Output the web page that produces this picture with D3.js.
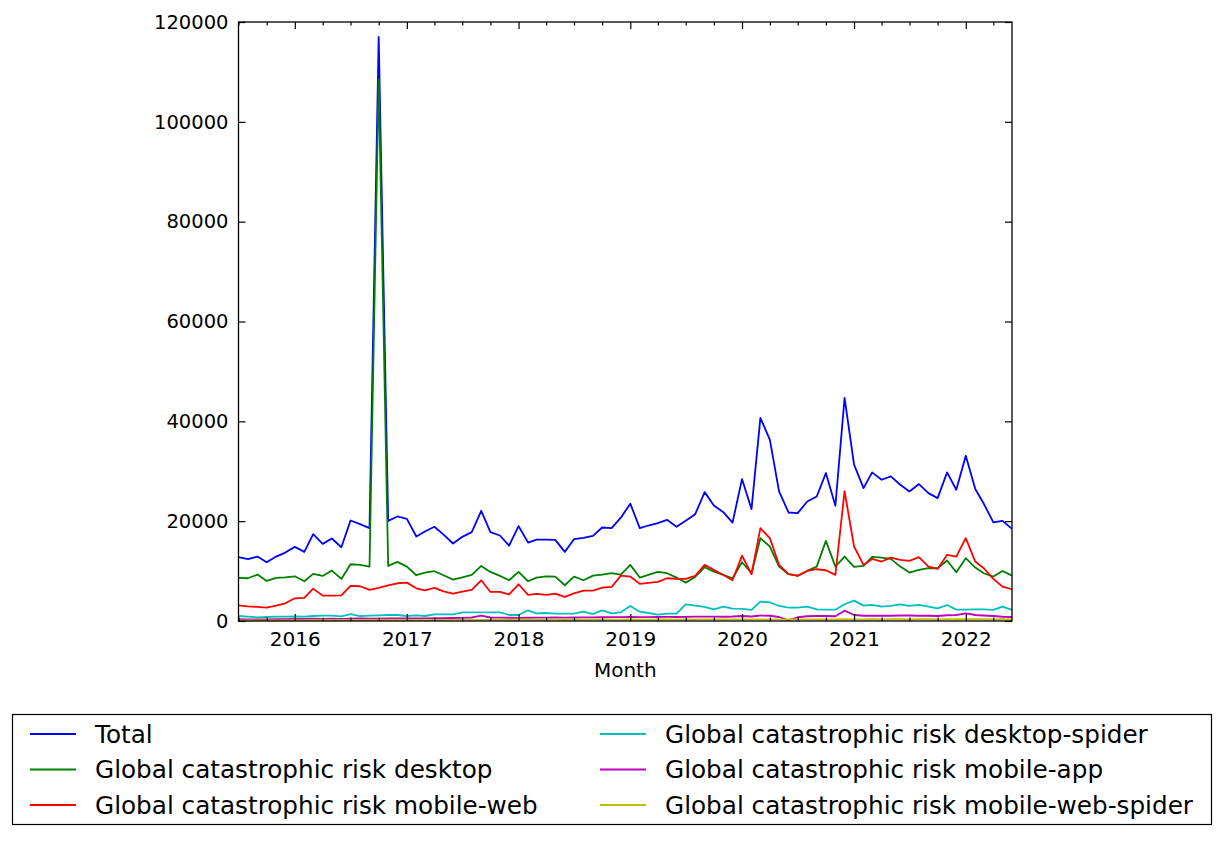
<!DOCTYPE html>
<html lang="en">

<head>
    <meta charset="UTF-8">
    <title>Global catastrophic risk pageviews</title>
    <style>
    body {
        margin: 0;
        background: #fff;
    }

    text {
        font-family: "DejaVu Sans", sans-serif;
        fill: #000;
    }

    .axis path {
        display: none;
    }

    .line {
        fill: none;
        stroke-width: 1.8;
        stroke-linejoin: round;
    }
    </style>
</head>

<body>
    <div id="chart"></div>
    <script src="https://d3js.org/d3.v7.min.js"></script>
    <script>
    // monthly categories, first and last month
    var firstMonth = "2015-07";
    var lastMonth = "2022-06";

    var total = [12780, 12380, 12910, 11770, 12910, 13710, 14850, 13850, 17390, 15450, 16520, 14780,
        20140, 19400, 18600, 117000, 20070, 20940, 20470, 16930, 17930, 18870, 17300, 15520,
        16860, 17800, 22080, 17800, 17130, 15120, 19000, 15720, 16320, 16320, 16250, 13850,
        16390, 16660, 17060, 18730, 18600, 20700, 23500, 18600, 19130, 19600, 20270, 18870,
        20070, 21400, 25820, 23150, 21800, 19700, 28430, 22400, 40700, 36300, 25960, 21740,
        21610, 23950, 24950, 29640, 23080, 44690, 31310, 26630, 29770, 28300, 28970, 27300,
        25960, 27430, 25620, 24620, 29770, 26290, 33120, 26430, 23480, 19740, 20070, 18460];

    var desktop = [8630, 8560, 9300, 8030, 8630, 8760, 8960, 7960, 9430, 9030, 10100, 8430,
        11370, 11240, 10900, 108500, 11040, 11840, 10900, 9170, 9700, 9970, 9170, 8300,
        8760, 9230, 11040, 9830, 9030, 8160, 9830, 7960, 8700, 8960, 8900, 7160,
        8900, 8160, 9100, 9300, 9570, 9300, 11240, 8700, 9230, 9830, 9570, 8700,
        7690, 8830, 10770, 9900, 9230, 8560, 11770, 9570, 16590, 14920, 10900, 9370,
        9030, 10030, 10900, 16060, 10900, 12910, 10840, 11040, 12850, 12710, 12440, 10900,
        9700, 10240, 10570, 10570, 12110, 9770, 12580, 10700, 9570, 8900, 10030, 9100];

    var mobileWeb = [3140, 2940, 2810, 2680, 3080, 3550, 4550, 4620, 6490, 5080, 5080, 5150,
        7020, 6960, 6220, 6620, 7160, 7560, 7690, 6560, 6150, 6620, 5950, 5490,
        5890, 6220, 8160, 5820, 5820, 5350, 7360, 5220, 5420, 5220, 5490, 4820,
        5550, 6090, 6090, 6690, 6820, 9100, 8900, 7430, 7630, 7830, 8560, 8430,
        8430, 9030, 11240, 10240, 9230, 8160, 13110, 9370, 18600, 16590, 11240, 9370,
        9100, 10030, 10370, 10170, 9230, 26000, 14920, 11240, 12440, 11910, 12710, 12240,
        12040, 12780, 10900, 10440, 13250, 12910, 16590, 11910, 10570, 8430, 6890, 6360];

    var desktopSpider = [1000, 870, 740, 800, 870, 870, 940, 870, 1000, 1070, 1070, 940,
        1400, 1000, 1070, 1140, 1200, 1200, 1000, 1140, 1000, 1340, 1340, 1340,
        1740, 1740, 1740, 1740, 1740, 1200, 1200, 2140, 1540, 1600, 1470, 1470,
        1470, 1870, 1400, 2140, 1540, 1740, 3010, 1870, 1600, 1270, 1470, 1470,
        3350, 3080, 2810, 2340, 2880, 2480, 2410, 2210, 3880, 3750, 3010, 2680,
        2680, 2880, 2340, 2270, 2270, 3350, 4080, 3080, 3210, 2880, 3010, 3350,
        3010, 3210, 2880, 2540, 3210, 2270, 2270, 2340, 2340, 2210, 2880, 2210];

    var mobileApp = [350, 330, 300, 320, 350, 380, 400, 420, 450, 430, 450, 440,
        480, 500, 470, 480, 500, 520, 500, 520, 540, 560, 580, 600,
        620, 700, 1070, 700, 680, 650, 640, 650, 660, 680, 700, 680,
        700, 720, 740, 750, 760, 780, 800, 760, 780, 800, 820, 800,
        840, 860, 880, 870, 850, 900, 1000, 900, 1100, 1050, 800, 150,
        750, 950, 1000, 1000, 950, 2070, 1200, 1050, 1050, 1050, 1050, 1100,
        1100, 1050, 1050, 1000, 1150, 1200, 1540, 1200, 1100, 1000, 850, 800];

    var mobileWebSpider = [120, 110, 100, 120, 130, 140, 150, 140, 160, 150, 170, 160,
        180, 170, 190, 200, 180, 190, 200, 210, 190, 200, 220, 210,
        230, 220, 240, 230, 250, 240, 260, 250, 240, 260, 270, 250,
        270, 260, 280, 270, 290, 280, 300, 290, 280, 300, 310, 290,
        310, 300, 320, 310, 300, 320, 330, 310, 330, 340, 320, 300,
        330, 320, 340, 330, 340, 350, 340, 330, 350, 340, 360, 350,
        340, 360, 350, 340, 360, 350, 370, 360, 350, 340, 350, 340];

    var seriesNames = ["Total", "Global catastrophic risk desktop", "Global catastrophic risk mobile-web",
        "Global catastrophic risk desktop-spider", "Global catastrophic risk mobile-app",
        "Global catastrophic risk mobile-web-spider"];
    var seriesColors = ["#0000ff", "#008000", "#ff0000", "#00bfbf", "#bf00bf", "#bfbf00"];
    var seriesValues = [total, desktop, mobileWeb, desktopSpider, mobileApp, mobileWebSpider];

    var yTicks = [0, 20000, 40000, 60000, 80000, 100000, 120000];
    var xLabel = "Month";

    var width = 1223;
    var height = 841;
    var plot = { left: 238.5, right: 1012, top: 22, bottom: 621 };

    var parseMonth = d3.timeParse("%Y-%m");
    var start = parseMonth(firstMonth),
        end = parseMonth(lastMonth);
    var months = d3.timeMonth.range(start, d3.timeMonth.offset(end, 1));

    var svg = d3.select('#chart').append('svg').attr('width', width).attr('height', height);

    var xScale = d3.scaleTime().domain([start, end]).range([plot.left, plot.right]);
    var yScale = d3.scaleLinear().domain([0, 120000]).range([plot.bottom, plot.top]);

    // 折线
    var line = d3.line()
        .x(function(d, i) { return xScale(months[i]); })
        .y(function(d) { return yScale(d); });

    svg.append('g').selectAll('path')
        .data(seriesValues)
        .enter()
        .append('path')
        .attr('class', 'line')
        .attr('d', function(d) { return line(d); })
        .style('stroke', function(d, i) { return seriesColors[i]; });

    // frame
    svg.append('rect')
        .attr('x', plot.left).attr('y', plot.top)
        .attr('width', plot.right - plot.left).attr('height', plot.bottom - plot.top)
        .attr('fill', 'none').attr('stroke', '#000').attr('stroke-width', 1.3);

    // ticks pointing inward, matplotlib classic
    var years = d3.timeYear.range(d3.timeYear.ceil(start), d3.timeDay.offset(end, 1));
    var quarters = d3.timeMonth.every(3).range(start, d3.timeDay.offset(end, 1))
        .filter(function(d) { return d.getMonth() !== 0; });

    var xAxisB = svg.append('g').attr('class', 'axis')
        .attr('transform', 'translate(0,' + plot.bottom + ')')
        .call(d3.axisBottom(xScale).tickValues(years).tickSizeInner(-7).tickPadding(11).tickFormat(d3.timeFormat('%Y')));
    xAxisB.selectAll('text').style('font-size', '20px');
    svg.append('g').attr('class', 'axis')
        .attr('transform', 'translate(0,' + plot.bottom + ')')
        .call(d3.axisBottom(xScale).tickValues(quarters).tickSizeInner(-3.5).tickFormat(''));
    svg.append('g').attr('class', 'axis')
        .attr('transform', 'translate(0,' + plot.top + ')')
        .call(d3.axisTop(xScale).tickValues(years).tickSizeInner(-7).tickFormat(''));
    svg.append('g').attr('class', 'axis')
        .attr('transform', 'translate(0,' + plot.top + ')')
        .call(d3.axisTop(xScale).tickValues(quarters).tickSizeInner(-3.5).tickFormat(''));

    var yAxisL = svg.append('g').attr('class', 'axis')
        .attr('transform', 'translate(' + plot.left + ',0)')
        .call(d3.axisLeft(yScale).tickValues(yTicks).tickSizeInner(-7).tickPadding(10).tickFormat(d3.format('d')));
    yAxisL.selectAll('text').style('font-size', '19.5px');
    svg.append('g').attr('class', 'axis')
        .attr('transform', 'translate(' + plot.right + ',0)')
        .call(d3.axisRight(yScale).tickValues(yTicks).tickSizeInner(-7).tickFormat(''));
    svg.selectAll('.axis line').attr('stroke', '#000').attr('stroke-width', 1.2);

    svg.append('text')
        .attr('x', (plot.left + plot.right) / 2)
        .attr('y', 677)
        .attr('text-anchor', 'middle')
        .style('font-size', '20px')
        .text(xLabel);

    // legend
    var legend = svg.append('g').attr('class', 'legend');
    legend.append('rect')
        .attr('x', 12.5).attr('y', 714.5).attr('width', 1199).attr('height', 110)
        .attr('fill', '#fff').attr('stroke', '#000').attr('stroke-width', 1.2);
    var items = legend.selectAll('g.item')
        .data(seriesNames)
        .enter()
        .append('g')
        .attr('class', 'item')
        .attr('transform', function(d, i) {
            var col = Math.floor(i / 3), row = i % 3;
            return 'translate(' + (30 + col * 570) + ',' + (734 + row * 35.5) + ')';
        });
    items.append('line')
        .attr('x1', 0).attr('x2', 46).attr('y1', 0).attr('y2', 0)
        .attr('stroke', function(d, i) { return seriesColors[i]; })
        .attr('stroke-width', 1.8);
    items.append('text')
        .attr('x', 65).attr('y', 0).attr('dy', '0.36em')
        .style('font-size', '24.7px')
        .text(function(d) { return d; });
    </script>
</body>

</html>
